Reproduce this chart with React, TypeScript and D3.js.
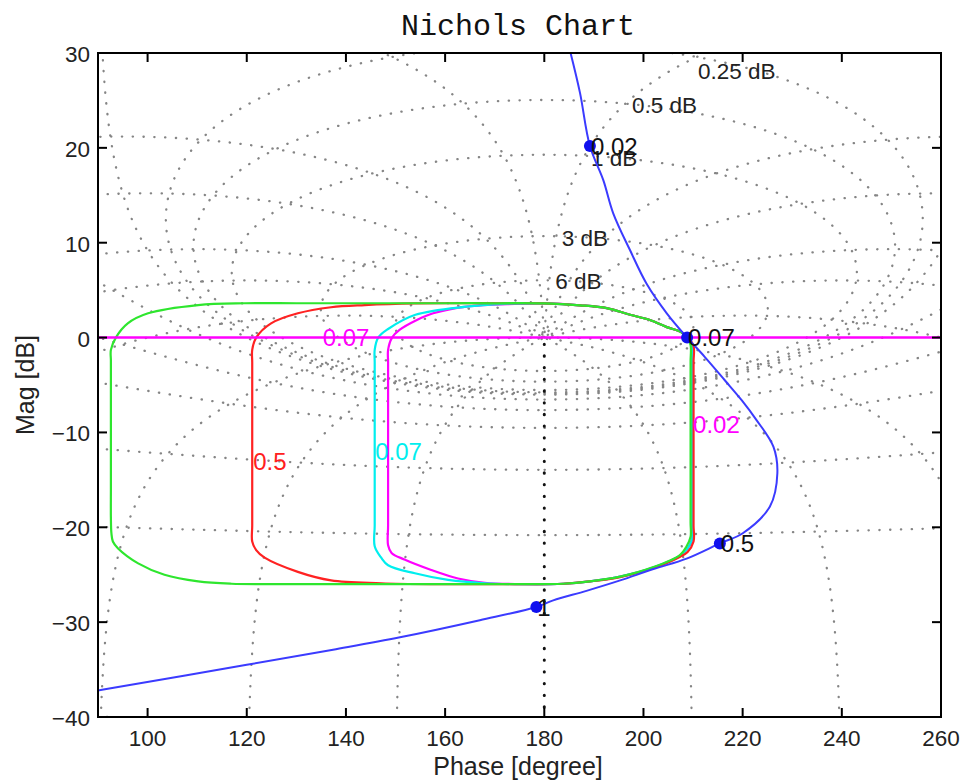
import React from "react";
import * as d3 from "d3";

const W = 964;
const H = 782;

// Axes
const phaseDomain = [90, 260];
const magDomain = [-40, 30];
const phaseTicks = [100, 120, 140, 160, 180, 200, 220, 240, 260];
const magTicks = [-40, -30, -20, -10, 0, 10, 20, 30];

// Nichols grid levels
const gridGainLevelsDb = [6, 3, 1, 0.5, 0.25, 0, -1, -3, -6, -12, -20, -40];
const gridPhaseLevelsDeg = [1, 5, 10, 20, 30, 50, 90, 120, 150, 180];
const gridLabelText = ["0.25 dB", "0.5 dB", "1 dB", "3 dB", "6 dB"];
const gridLabelPhase = [211.0, 197.7, 189.4, 183.5, 182.2];
const gridLabelMag = [28.1, 24.5, 18.9, 10.5, 6.0];

// Open-loop response (blue)
const loopPhase = [185.3, 187.2, 189.2, 191.9, 193.9, 197.3, 200.6, 204.7, 208.8, 212.3, 216.4, 219.8, 222.8, 226.2, 227.0, 225.5, 220.1, 215.4, 208.7, 202.0, 195.3, 188.5, 181.8, 178.4, 167.0, 150.9, 137.4, 120.0, 91.1, 90.0];
const loopMag = [30.0, 25.8, 20.2, 16.6, 13.1, 9.2, 5.7, 2.56, 0.0, -2.0, -4.5, -6.6, -8.7, -11.5, -14.3, -17.8, -20.6, -21.7, -23.3, -24.4, -25.6, -26.7, -27.7, -28.4, -29.8, -31.6, -32.9, -34.5, -37.1, -37.2];

// Frequency markers
const markerFreq = ["0.02", "0.07", "0.5", "1"];
const markerPhase = [189.2, 208.8, 215.4, 178.4];
const markerMag = [20.2, 0.0, -21.7, -28.4];

// Templates (closed outlines, clockwise from the top-left)
const greenPhase = [100.1, 110.2, 119.6, 130, 140, 150, 160, 170, 180, 187.2, 192.6, 197.3, 201.3, 204.7, 207.5, 208.8, 209.5, 209.5, 209.5, 209.5, 209.5, 209.5, 209.5, 209.5, 209.5, 208.7, 207.4, 202.0, 195.3, 189.2, 183.8, 175, 165, 155, 145, 135, 125, 116.9, 110.2, 103.4, 98.1, 94.0, 93.0, 92.7, 92.6, 92.6, 92.6, 92.6, 92.6, 92.6, 92.6, 92.6, 93.6, 96.0];
const greenMag = [2.56, 3.43, 3.62, 3.62, 3.62, 3.62, 3.62, 3.62, 3.6, 3.4, 3.1, 2.4, 1.85, 1.1, 0.6, 0.0, -0.8, -2.5, -5, -8, -11, -14, -17, -19.5, -21.0, -22.0, -22.9, -24.2, -25.2, -25.7, -25.95, -26.0, -26.0, -26.0, -26.0, -26.0, -26.0, -25.95, -25.7, -25.0, -23.8, -22.2, -21.5, -20.6, -19.0, -16, -13, -10, -7, -4, -2.4, -1.3, 0.0, 1.5];

const redPhase = [137.0, 143.8, 153.9, 163, 172, 180, 187.2, 192.6, 197.3, 201.3, 204.7, 207.5, 209.0, 210.1, 210.1, 210.1, 210.1, 210.1, 210.1, 210.1, 210.1, 210.1, 208.9, 207.4, 202.0, 195.3, 189.2, 183.8, 175, 166, 157, 147.1, 137.0, 130.3, 123.6, 121.9, 121.1, 121.1, 121.1, 121.1, 121.1, 121.1, 121.1, 121.1, 121.1, 121.9, 124.9, 130.3];
const redMag = [3.2, 3.43, 3.6, 3.62, 3.62, 3.6, 3.4, 3.1, 2.4, 1.85, 1.1, 0.6, 0.0, -0.9, -2.5, -5, -8, -11, -14, -17, -19.8, -21.5, -22.6, -23.1, -24.3, -25.25, -25.7, -25.95, -26.0, -26.0, -26.0, -25.9, -25.6, -24.7, -23.2, -22.4, -21.5, -19.8, -17, -14, -11, -8, -5, -2.6, -1.3, 0.0, 1.5, 2.56];

const cyanPhase = [164.3, 172, 180, 187.2, 192.6, 197.3, 201.3, 204.7, 207.5, 208.9, 209.8, 209.8, 209.8, 209.8, 209.8, 209.8, 209.8, 209.8, 209.8, 208.8, 207.4, 202.0, 195.3, 189.2, 183.8, 176, 168, 160.6, 153.9, 148.5, 147.1, 145.8, 145.8, 145.8, 145.8, 145.8, 145.8, 145.8, 145.8, 145.8, 146.5, 148.5, 154.0];
const cyanMag = [3.26, 3.55, 3.6, 3.4, 3.1, 2.4, 1.85, 1.1, 0.6, 0.0, -0.8, -2.5, -5, -8, -11, -14, -17, -19.8, -21.3, -22.3, -23.0, -24.25, -25.2, -25.7, -25.95, -26.0, -25.9, -25.55, -24.85, -24.0, -23.2, -22.0, -19.8, -17, -14, -11, -8, -5, -2.6, -1.3, 0.0, 0.9, 2.4];

const magentaPhase = [164.3, 174, 180, 187.2, 192.6, 197.3, 201.3, 204.7, 207.5, 208.9, 209.8, 209.8, 209.8, 209.8, 209.8, 209.8, 209.8, 209.8, 209.8, 208.8, 207.4, 202.0, 195.3, 189.2, 183.8, 176, 168, 162.6, 157.2, 151.8, 149.2, 148.5, 148.5, 148.5, 148.5, 148.5, 148.5, 148.5, 148.5, 148.5, 149.3, 150.8, 154.3, 157.6];
const magentaMag = [3.26, 3.55, 3.6, 3.4, 3.1, 2.4, 1.85, 1.1, 0.6, 0.0, -0.8, -2.5, -5, -8, -11, -14, -17, -19.8, -21.3, -22.3, -23.0, -24.25, -25.2, -25.7, -25.95, -26.0, -25.85, -25.4, -24.5, -23.4, -22.7, -21.9, -19.8, -17, -14, -11, -8, -5, -2.6, -1.3, 0.0, 0.8, 1.85, 2.56];

// Colored labels
const tagText = ["0.07", "0.5", "0.07", "0.02"];
const tagPhase = [135.3, 121.3, 145.9, 210.0];
const tagMag = [0.0, -13.0, -12.0, -9.2];
const tagColor = ["#ff00ff", "#ff2020", "#00eeee", "#ff00ff"];

const C_GREEN = "#2ee62e";
const C_RED = "#ff2222";
const C_CYAN = "#00eeee";
const C_MAGENTA = "#ff00ff";
const C_BLUE = "#3b3bff";

const L = 98, R = 941, T = 53, B = 717;
const x = d3.scaleLinear().domain(phaseDomain).range([L, R]);
const y = d3.scaleLinear().domain(magDomain).range([B, T]);

type P = [number, number];

function openLoop(tr: number, ti: number): P {
  const dr = 1 - tr, di = -ti;
  const den = dr * dr + di * di;
  const lr = (tr * dr + ti * di) / den;
  const li = (ti * dr - tr * di) / den;
  let ph = (Math.atan2(li, lr) * 180) / Math.PI;
  if (ph < 0) ph += 360;
  const g = 10 * Math.log10(lr * lr + li * li);
  return [ph, g];
}

function toSegments(pts: P[]): P[][] {
  const segs: P[][] = [];
  let cur: P[] = [];
  let prev: P | null = null;
  for (const p of pts) {
    const ok = isFinite(p[0]) && isFinite(p[1]) && p[1] > -55 && p[1] < 45 && p[0] > 70 && p[0] < 280;
    if (!ok || (prev && Math.abs(p[0] - prev[0]) > 60)) {
      if (cur.length > 1) segs.push(cur);
      cur = [];
    }
    if (ok) cur.push(p);
    prev = ok ? p : null;
  }
  if (cur.length > 1) segs.push(cur);
  return segs;
}

function gainContour(db: number): P[][] {
  const M = Math.pow(10, db / 20);
  const pts: P[] = [];
  const N = 6000;
  for (let i = 1; i < N; i++) {
    const th = -Math.PI + (2 * Math.PI * i) / N;
    pts.push(openLoop(M * Math.cos(th), M * Math.sin(th)));
  }
  return toSegments(pts);
}

function phaseContour(deg: number): P[][] {
  const phi = (deg * Math.PI) / 180;
  const pts: P[] = [];
  const N = 6000;
  for (let i = 0; i <= N; i++) {
    const s = -3 + (6 * i) / N;
    const r = Math.pow(10, s);
    pts.push(openLoop(r * Math.cos(phi), r * Math.sin(phi)));
  }
  return toSegments(pts);
}

const line = d3
  .line<P>()
  .x((d) => x(d[0]))
  .y((d) => y(d[1]));

const smooth = d3
  .line<P>()
  .x((d) => x(d[0]))
  .y((d) => y(d[1]))
  .curve(d3.curveCatmullRom.alpha(0.5));

const closedSmooth = d3
  .line<P>()
  .x((d) => x(d[0]))
  .y((d) => y(d[1]))
  .curve(d3.curveCatmullRomClosed.alpha(0.5));

function zip(a: number[], b: number[]): P[] {
  return a.map((v, i) => [v, b[i]] as P);
}

const FONT = "'Liberation Sans', Arial, Helvetica, sans-serif";

export default function App() {
  const gridPaths: { d: string; dark: boolean }[] = [];
  gridGainLevelsDb.forEach((db) => {
    gainContour(db).forEach((seg) => gridPaths.push({ d: line(seg) || "", dark: false }));
  });
  gridPhaseLevelsDeg.forEach((deg) => {
    const signs = deg === 180 ? [1] : [1, -1];
    signs.forEach((s) => {
      phaseContour(deg * s).forEach((seg) =>
        gridPaths.push({ d: line(seg) || "", dark: deg === 180 })
      );
    });
  });

  const templates = [
    { d: closedSmooth(zip(magentaPhase, magentaMag)) || "", color: C_MAGENTA },
    { d: closedSmooth(zip(cyanPhase, cyanMag)) || "", color: C_CYAN },
    { d: closedSmooth(zip(redPhase, redMag)) || "", color: C_RED },
    { d: closedSmooth(zip(greenPhase, greenMag)) || "", color: C_GREEN },
  ];

  return (
    <svg
      width={W}
      height={H}
      viewBox={`0 0 ${W} ${H}`}
      style={{ position: "absolute", left: 0, top: 0, display: "block", background: "#fff" }}
    >
      <defs>
        <clipPath id="plotClip">
          <rect x={L} y={T} width={R - L} height={B - T} />
        </clipPath>
      </defs>
      <rect x={0} y={0} width={W} height={H} fill="#fff" />

      <g clipPath="url(#plotClip)">
        {gridPaths
          .filter((g) => !g.dark)
          .map((g, i) => (
            <path
              key={"g" + i}
              d={g.d}
              fill="none"
              stroke="#858585"
              strokeWidth={2.3}
              strokeLinecap="round"
              strokeDasharray="0.3 10.5"
            />
          ))}
        {gridPaths
          .filter((g) => g.dark)
          .map((g, i) => (
            <path
              key={"gd" + i}
              d={g.d}
              fill="none"
              stroke="#111"
              strokeWidth={3}
              strokeLinecap="round"
              strokeDasharray="0.3 11.4"
            />
          ))}
      </g>

      {gridLabelText.map((t, i) => (
        <text
          key={"gl" + i}
          x={x(gridLabelPhase[i])}
          y={y(gridLabelMag[i])}
          dy="0.35em"
          fontFamily={FONT}
          fontSize={22.5}
          fill="#222"
        >
          {t}
        </text>
      ))}

      <g clipPath="url(#plotClip)">
        {templates.map((t, i) => (
          <path key={"t" + i} d={t.d} fill="none" stroke={t.color} strokeWidth={2.2} strokeLinejoin="round" />
        ))}
        <line x1={x(90)} x2={x(260)} y1={y(0)} y2={y(0)} stroke={C_MAGENTA} strokeWidth={2.4} />
        <path d={smooth(zip(loopPhase, loopMag)) || ""} fill="none" stroke={C_BLUE} strokeWidth={2} />
        {markerPhase.map((p, i) => (
          <circle key={"m" + i} cx={x(p)} cy={y(markerMag[i])} r={6} fill="#1010ee" />
        ))}
      </g>

      {markerFreq.map((f, i) => (
        <text
          key={"mf" + i}
          x={x(markerPhase[i]) + 1}
          y={y(markerMag[i])}
          dy="0.36em"
          fontFamily={FONT}
          fontSize={24}
          fill="#111"
        >
          {f}
        </text>
      ))}

      {tagText.map((t, i) => (
        <text
          key={"tg" + i}
          x={x(tagPhase[i])}
          y={y(tagMag[i])}
          dy="0.36em"
          fontFamily={FONT}
          fontSize={24}
          fill={tagColor[i]}
        >
          {t}
        </text>
      ))}

      {/* Axes box */}
      <rect x={L} y={T} width={R - L} height={B - T} fill="none" stroke="#000" strokeWidth={2} />
      {phaseTicks.map((p) => (
        <g key={"xt" + p}>
          <line x1={x(p)} x2={x(p)} y1={B} y2={B - 9} stroke="#000" strokeWidth={2} />
          <line x1={x(p)} x2={x(p)} y1={T} y2={T + 9} stroke="#000" strokeWidth={2} />
          <text x={x(p)} y={746} textAnchor="middle" fontFamily={FONT} fontSize={22.5} fill="#222">
            {p}
          </text>
        </g>
      ))}
      {magTicks.map((m) => (
        <g key={"yt" + m}>
          <line x1={L} x2={L + 9} y1={y(m)} y2={y(m)} stroke="#000" strokeWidth={2} />
          <line x1={R} x2={R - 9} y1={y(m)} y2={y(m)} stroke="#000" strokeWidth={2} />
          <text x={90} y={y(m) + 9} textAnchor="end" fontFamily={FONT} fontSize={22.5} fill="#222">
            {m < 0 ? "\u2212" + Math.abs(m) : String(m)}
          </text>
        </g>
      ))}

      <text x={518} y={35} textAnchor="middle" fontFamily="'Liberation Mono', 'Courier New', monospace" fontSize={30} fill="#111">
        Nichols Chart
      </text>
      <text x={518} y={775} textAnchor="middle" fontFamily={FONT} fontSize={25} fill="#222">
        Phase [degree]
      </text>
      <text
        transform={`translate(34,385) rotate(-90)`}
        textAnchor="middle"
        fontFamily={FONT}
        fontSize={25}
        fill="#222"
      >
        Mag [dB]
      </text>
    </svg>
  );
}
